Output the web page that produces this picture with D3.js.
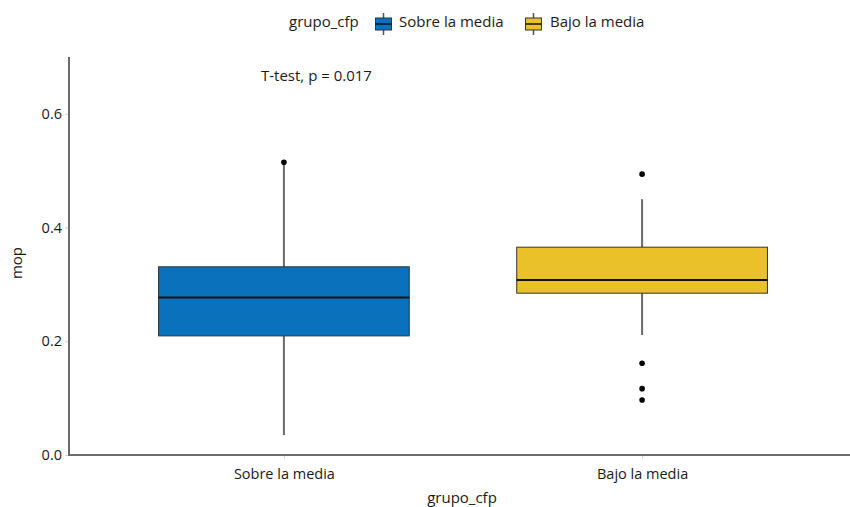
<!DOCTYPE html>
<html>
<head>
<meta charset="utf-8">
<script src="https://cdn.jsdelivr.net/npm/d3@7"></script>
<style>
  html, body { margin: 0; padding: 0; background: #fff; }
  svg { display: block; font-family: "Open Sans", "Noto Sans", sans-serif; }
</style>
</head>
<body>
<svg id="chart" width="850" height="507"></svg>
<script>
// Groups and their box-plot summaries (mop by grupo_cfp)
const categories = ["Sobre la media", "Bajo la media"];
const colors = ["#0A72BD", "#EBC12A"];
const q1 = [0.2095, 0.2846];
const medians = [0.277, 0.308];
const q3 = [0.331, 0.3655];
const whiskerLow = [0.035, 0.211];
const whiskerHigh = [0.515, 0.450];
const outliers = [[0.515], [0.494, 0.1614, 0.1167, 0.0968]];
const yTicks = [0.0, 0.2, 0.4, 0.6];
const annotation = "T-test, p = 0.017";

const svg = d3.select("#chart");
const plotLeft = 69, plotRight = 857, plotTop = 57, plotBottom = 455;

const x = d3.scalePoint().domain(categories).range([plotLeft, plotRight]).padding(0.6);
const y = d3.scaleLinear().domain([0, 0.7]).range([plotBottom, plotTop]);
const boxW = x.step() * 0.7;

const data = categories.map((c, i) => ({
  cat: c, color: colors[i], q1: q1[i], med: medians[i], q3: q3[i],
  lo: whiskerLow[i], hi: whiskerHigh[i], out: outliers[i]
}));

// Axes
const yAxis = svg.append("g").attr("transform", `translate(${plotLeft},0)`)
  .call(d3.axisLeft(y).tickValues(yTicks).tickFormat(d3.format(".1f")).tickSize(4).tickPadding(3));
const xAxis = svg.append("g").attr("transform", `translate(0,${plotBottom})`)
  .call(d3.axisBottom(x).tickSize(4).tickPadding(6));
[yAxis, xAxis].forEach(g => {
  g.select(".domain").remove();
  g.selectAll(".tick line").attr("stroke", "#cfd3d6").attr("stroke-width", 1);
  g.selectAll(".tick text").attr("fill", "#1a1a1a").style("font-size", "14.5px")
    .style("font-family", "'Open Sans', sans-serif");
});
xAxis.selectAll(".tick text").attr("dy", "0.95em");
svg.append("line").attr("x1", plotLeft).attr("x2", plotLeft).attr("y1", plotTop).attr("y2", plotBottom + 1)
  .attr("stroke", "#6b6b6b").attr("stroke-width", 2);
svg.append("line").attr("x1", plotLeft).attr("x2", 850).attr("y1", plotBottom).attr("y2", plotBottom)
  .attr("stroke", "#6b6b6b").attr("stroke-width", 2);

// Boxes
const g = svg.append("g").selectAll("g").data(data).join("g");
g.append("line")
  .attr("x1", d => x(d.cat)).attr("x2", d => x(d.cat))
  .attr("y1", d => y(d.hi)).attr("y2", d => y(d.q3))
  .attr("stroke", "#6a6a6a").attr("stroke-width", 2);
g.append("line")
  .attr("x1", d => x(d.cat)).attr("x2", d => x(d.cat))
  .attr("y1", d => y(d.q1)).attr("y2", d => y(d.lo))
  .attr("stroke", "#6a6a6a").attr("stroke-width", 2);
g.append("rect")
  .attr("x", d => x(d.cat) - boxW / 2).attr("width", boxW)
  .attr("y", d => y(d.q3)).attr("height", d => y(d.q1) - y(d.q3))
  .attr("fill", d => d.color).attr("stroke", "#333").attr("stroke-width", 1);
g.append("line")
  .attr("x1", d => x(d.cat) - boxW / 2).attr("x2", d => x(d.cat) + boxW / 2)
  .attr("y1", d => y(d.med)).attr("y2", d => y(d.med))
  .attr("stroke", "#111").attr("stroke-width", 2);
g.selectAll("circle").data(d => d.out.map(v => ({ cat: d.cat, v })))
  .join("circle")
  .attr("cx", d => x(d.cat)).attr("cy", d => y(d.v)).attr("r", 2.8).attr("fill", "#000");

// Annotation
svg.append("text").attr("x", 261).attr("y", 81).text(annotation)
  .style("font-size", "15px").attr("fill", "#1a1a1a");

// Axis titles
svg.append("text").attr("transform", "translate(22,263) rotate(-90)")
  .attr("text-anchor", "middle").text("mop").style("font-size", "15px").attr("fill", "#1a1a1a");
svg.append("text").attr("x", 462).attr("y", 503).attr("text-anchor", "middle")
  .text("grupo_cfp").style("font-size", "15px").attr("fill", "#1a1a1a");

// Legend
const legend = svg.append("g");
legend.append("text").attr("x", 289).attr("y", 27).text("grupo_cfp")
  .style("font-size", "15px").attr("fill", "#1a1a1a");
const keyX = [375, 525];
const labX = [399, 550];
data.forEach((d, i) => {
  const k = legend.append("g").attr("transform", `translate(${keyX[i]},0)`);
  k.append("line").attr("x1", 8.5).attr("x2", 8.5).attr("y1", 13).attr("y2", 35)
    .attr("stroke", "#555").attr("stroke-width", 1.5);
  k.append("rect").attr("x", 0.5).attr("y", 18).attr("width", 16).attr("height", 12)
    .attr("fill", d.color).attr("stroke", "#333").attr("stroke-width", 1);
  k.append("line").attr("x1", 0.5).attr("x2", 16.5).attr("y1", 24).attr("y2", 24)
    .attr("stroke", "#111").attr("stroke-width", 1.5);
  legend.append("text").attr("x", labX[i]).attr("y", 27).text(d.cat)
    .style("font-size", "15px").attr("fill", "#1a1a1a");
});
</script>
</body>
</html>
